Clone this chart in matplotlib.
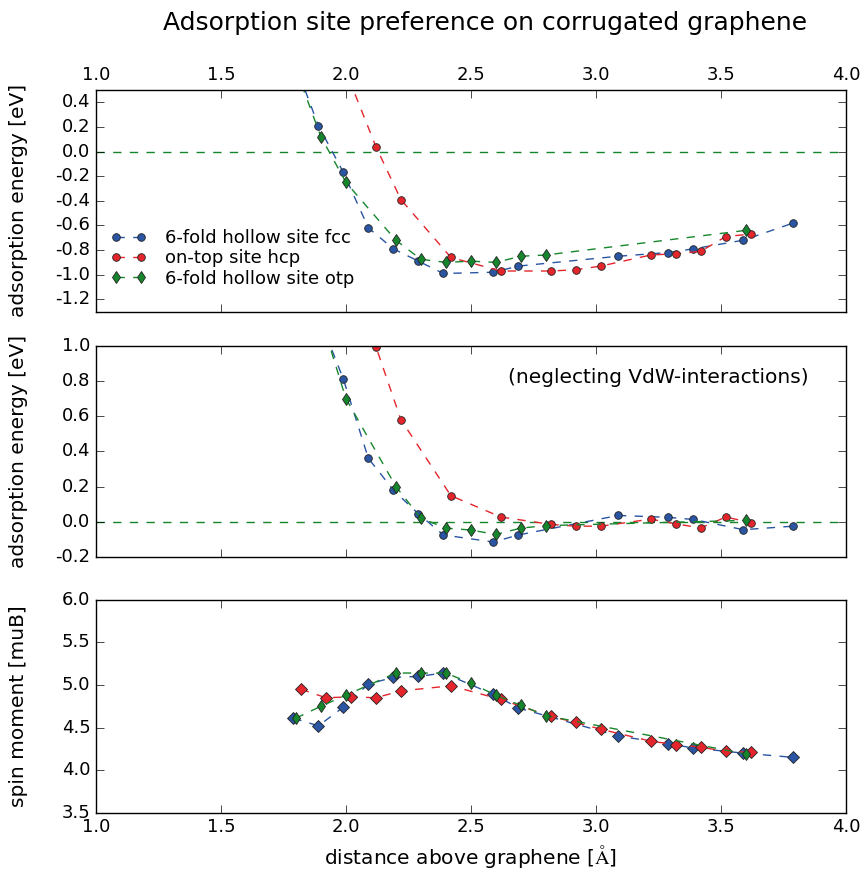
import matplotlib
matplotlib.use("Agg")
import matplotlib.pyplot as plt
import numpy as np

plt.style.use("classic")
plt.rcParams["figure.facecolor"] = "white"
plt.rcParams["savefig.facecolor"] = "white"
plt.rcParams["mathtext.fontset"] = "cm"
plt.rcParams["font.family"] = ["DejaVu Sans"]

# distances (Angstrom)
x_fcc = [1.79, 1.89, 1.99, 2.09, 2.19, 2.29, 2.39, 2.59, 2.69, 3.09, 3.29, 3.39, 3.59, 3.79]
x_hcp = [1.82, 1.92, 2.02, 2.12, 2.22, 2.42, 2.62, 2.82, 2.92, 3.02, 3.22, 3.32, 3.42, 3.52, 3.62]
x_otp = [1.80, 1.90, 2.00, 2.20, 2.30, 2.40, 2.50, 2.60, 2.70, 2.80, 3.60]

# adsorption energy with VdW [eV]
e_fcc = [0.75, 0.21, -0.17, -0.62, -0.79, -0.89, -0.99, -0.98, -0.93, -0.85, -0.82, -0.79, -0.72, -0.58]
e_hcp = [2.0, 1.2, 0.55, 0.04, -0.39, -0.86, -0.97, -0.97, -0.96, -0.93, -0.84, -0.83, -0.81, -0.69, -0.67]
e_otp = [0.67, 0.12, -0.25, -0.72, -0.875, -0.90, -0.89, -0.90, -0.85, -0.84, -0.64]

# adsorption energy without VdW [eV]
n_fcc = [1.7, 1.17, 0.81, 0.36, 0.18, 0.045, -0.075, -0.115, -0.075, 0.036, 0.025, 0.013, -0.045, -0.025]
n_hcp = [2.4, 1.6, 1.3, 0.995, 0.58, 0.148, 0.027, -0.015, -0.025, -0.025, 0.015, -0.012, -0.035, 0.027, -0.005]
n_otp = [1.7, 1.16, 0.70, 0.20, 0.02, -0.036, -0.047, -0.072, -0.036, -0.022, 0.008]

# spin moment [muB]
s_fcc = [4.61, 4.52, 4.74, 5.01, 5.09, 5.10, 5.14, 4.89, 4.73, 4.40, 4.31, 4.26, 4.20, 4.15]
s_hcp = [4.95, 4.85, 4.86, 4.85, 4.93, 4.99, 4.83, 4.63, 4.56, 4.48, 4.34, 4.30, 4.27, 4.22, 4.21]
s_otp = [4.61, 4.75, 4.88, 5.14, 5.14, 5.14, 5.02, 4.88, 4.76, 4.64, 4.19]

blue = "#2a55a3"
red = "#e4252c"
green = "#16862c"
labels = ["6-fold hollow site fcc", "on-top site hcp", "6-fold hollow site otp"]

fig = plt.figure(figsize=(8.64, 8.73), dpi=100)
ax1 = fig.add_axes([0.111, 0.643, 0.868, 0.254])
ax2 = fig.add_axes([0.111, 0.362, 0.868, 0.242])
ax3 = fig.add_axes([0.111, 0.069, 0.868, 0.244])

kw = dict(linestyle="--", linewidth=1.0, markeredgecolor="#222222", markeredgewidth=0.6)

for ax, (yf, yh, yo) in zip([ax1, ax2], [(e_fcc, e_hcp, e_otp), (n_fcc, n_hcp, n_otp)]):
    ax.axhline(0.0, color=green, linestyle="--", linewidth=1.0)
    ax.plot(x_fcc, yf, color=blue, marker="o", markersize=5.5, markerfacecolor=blue, label=labels[0], **kw)
    ax.plot(x_hcp, yh, color=red, marker="o", markersize=5.5, markerfacecolor=red, label=labels[1], **kw)
    ax.plot(x_otp, yo, color=green, marker="d", markersize=6, markerfacecolor=green, label=labels[2], **kw)
    ax.set_ylabel("adsorption energy [eV]", fontsize=14.5)

ax3.plot(x_fcc, s_fcc, color=blue, marker="D", markersize=6.5, markerfacecolor=blue, **kw)
ax3.plot(x_hcp, s_hcp, color=red, marker="D", markersize=6.5, markerfacecolor=red, **kw)
ax3.plot(x_otp, s_otp, color=green, marker="d", markersize=6, markerfacecolor=green, **kw)
ax3.set_ylabel("spin moment [muB]", fontsize=14.5)
ax3.set_xlabel(r"distance above graphene [$\mathrm{\AA}$]", fontsize=14.5)

ax1.set_ylim(-1.3, 0.5)
ax1.set_yticks(np.round(np.arange(-1.2, 0.41, 0.2), 1) + 0.0)
ax2.set_ylim(-0.2, 1.0)
ax2.set_yticks(np.round(np.arange(-0.2, 1.01, 0.2), 1) + 0.0)
ax3.set_ylim(3.5, 6.0)
ax3.set_yticks(np.arange(3.5, 6.01, 0.5))

fmt = matplotlib.ticker.FuncFormatter(lambda v, p: "%.1f" % (0.0 if abs(v) < 1e-9 else v))
for ax in [ax1, ax2, ax3]:
    ax.set_xlim(1.0, 4.0)
    ax.set_xticks(np.arange(1.0, 4.01, 0.5))
    ax.tick_params(labelsize=13, direction="in", top=True, right=True, length=6)
    ax.yaxis.set_major_formatter(fmt)
    ax.yaxis.set_label_coords(-0.09, 0.5)

ax1.tick_params(labeltop=True, labelbottom=False)
ax2.tick_params(labelbottom=False)

leg = ax1.legend(loc="lower left", bbox_to_anchor=(0.005, 0.06), frameon=False,
                 numpoints=2, fontsize=13, handlelength=2.0, handletextpad=1.0,
                 labelspacing=0.12, borderaxespad=0.2)

ax2.text(0.95, 0.85, "(neglecting VdW-interactions)", transform=ax2.transAxes,
         ha="right", va="center", fontsize=14.5)

fig.text(0.561, 1 - 23 / 873, "Adsorption site preference on corrugated graphene",
         ha="center", va="center", fontsize=18)

fig.savefig("out.png", dpi=100)
